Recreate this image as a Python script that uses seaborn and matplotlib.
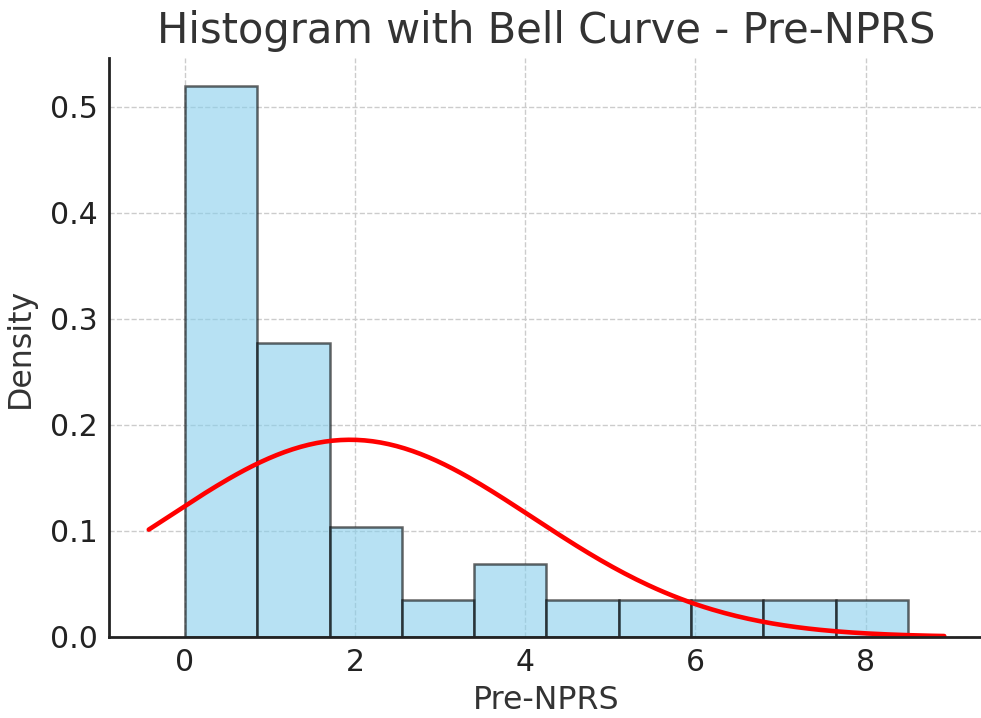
import numpy as np
import pandas as pd
import matplotlib
matplotlib.use("Agg")
import matplotlib.pyplot as plt
import seaborn as sns

# Histogram bins for the Pre-NPRS scores (10 equal bins from 0 to 8.5)
bin_edges = [0.0, 0.85, 1.7, 2.55, 3.4, 4.25, 5.1, 5.95, 6.8, 7.65, 8.5]
bin_density = [0.520, 0.277, 0.104, 0.035, 0.069, 0.035, 0.035, 0.035, 0.035, 0.035]

# Fitted normal distribution
mu = 1.94
sigma = 2.145

sns.set_style("white")
plt.rcParams["font.family"] = ["DejaVu Sans"]

fig = plt.figure(figsize=(9.81, 7.18), dpi=100)
ax = fig.add_axes([109 / 981, (718 - 637) / 718, 875 / 981, (637 - 58) / 718])

centers = [(a + b) / 2 for a, b in zip(bin_edges[:-1], bin_edges[1:])]
df = pd.DataFrame({"score": centers, "density": bin_density})

sns.histplot(data=df, x="score", weights="density", bins=bin_edges, stat="count",
             color="skyblue", edgecolor=(0, 0, 0, 0.6), alpha=0.6, linewidth=1.8, ax=ax)

# Normal curve over the current x range
xmin, xmax = ax.get_xlim()
xs = np.linspace(xmin, xmax, 200)
pdf = np.exp(-0.5 * ((xs - mu) / sigma) ** 2) / (sigma * np.sqrt(2 * np.pi))
ax.plot(xs, pdf, color="red", linewidth=3.3)
ax.set_xlim(xmin - 0.05 * (xmax - xmin), xmax + 0.05 * (xmax - xmin))
ax.set_ylim(0, 0.546)

ax.set_title("Histogram with Bell Curve - Pre-NPRS", fontsize=30, color="#333333", pad=11)
ax.set_xlabel("Pre-NPRS", fontsize=22.8, color="#333333", labelpad=6)
ax.set_ylabel("Density", fontsize=22.8, color="#333333", labelpad=10)

ax.set_xticks([0, 2, 4, 6, 8])
ax.set_yticks([0.0, 0.1, 0.2, 0.3, 0.4, 0.5])
ax.yaxis.set_major_formatter(matplotlib.ticker.FormatStrFormatter("%.1f"))
ax.tick_params(axis="both", direction="in", length=7, width=1.6, labelsize=21.5,
               colors="#222222", pad=8)

ax.grid(True, linestyle="--", color="#cccccc", linewidth=1)
ax.set_axisbelow(True)
sns.despine(ax=ax)
for side in ("left", "bottom"):
    ax.spines[side].set_linewidth(2)
    ax.spines[side].set_color("#222222")

fig.savefig("out.png", dpi=100)
